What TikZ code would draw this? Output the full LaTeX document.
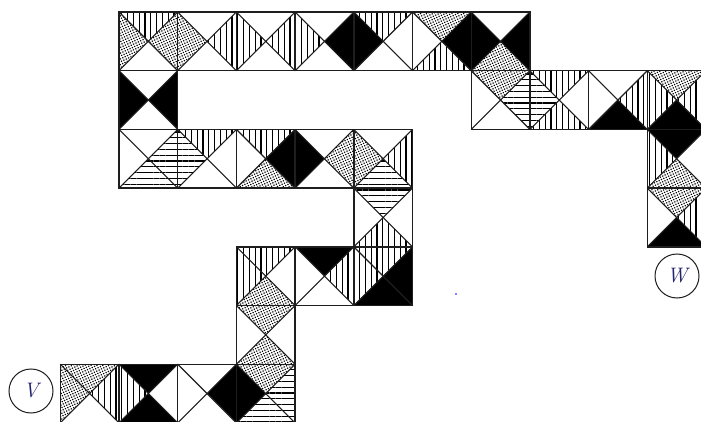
\documentclass[tikz,border=0pt]{standalone}
\usetikzlibrary{patterns.meta}
\definecolor{edgec}{RGB}{30,30,30}
\definecolor{letc}{RGB}{35,35,110}
\tikzset{
 fW/.style={fill=white},
 fK/.style={fill=black},
 fV/.style={pattern={Lines[angle=90,distance=5.8pt,line width=1.1pt]},pattern color=black},
 fH/.style={pattern={Lines[angle=0,distance=5.8pt,line width=1.1pt]},pattern color=black},
 fD/.style={pattern={Dots[distance=2.6pt,radius=0.85pt,angle=25]},pattern color=black},
 diag/.style={draw=edgec,line width=1.1pt},
 edge/.style={draw=edgec,line width=1.4pt},
 endpt/.style={circle,draw=edgec,line width=1pt,minimum size=44pt,inner sep=0pt,font=\fontsize{21}{21}\selectfont\itshape,text=letc},
}
% #1 column, #2 row, then fills of top, right, bottom, left triangles
\newcommand\mytile[6]{%
 \begin{scope}[shift={({60.3+#1*58.7},{12+#2*58.7})}]
  \path[f#3] (0,0) -- (58.7,0) -- (29.35,29.35) -- cycle;
  \path[f#4] (58.7,0) -- (58.7,58.7) -- (29.35,29.35) -- cycle;
  \path[f#5] (0,58.7) -- (58.7,58.7) -- (29.35,29.35) -- cycle;
  \path[f#6] (0,0) -- (0,58.7) -- (29.35,29.35) -- cycle;
  \draw[diag] (0,0) -- (58.7,58.7) (58.7,0) -- (0,58.7);
  \draw[edge] (0,0) rectangle (58.7,58.7);
 \end{scope}}
\begin{document}
\begin{tikzpicture}[x=1pt,y=-1pt]
\useasboundingbox (0,0) rectangle (701,422);
\clip (0,0) rectangle (701,422);
\fill[white] (0,0) rectangle (701,422);
% row 0
\mytile{1}{0}{V}{D}{W}{D}
\mytile{2}{0}{W}{V}{W}{D}
\mytile{3}{0}{W}{V}{W}{V}
\mytile{4}{0}{W}{K}{W}{V}
\mytile{5}{0}{V}{W}{W}{K}
\mytile{6}{0}{D}{K}{V}{W}
\mytile{7}{0}{W}{K}{D}{K}
% row 1
\mytile{1}{1}{W}{K}{W}{K}
\mytile{7}{1}{D}{H}{W}{W}
\mytile{8}{1}{V}{W}{V}{H}
\mytile{9}{1}{W}{V}{K}{W}
\mytile{10}{1}{D}{V}{K}{V}
% row 2
\mytile{1}{2}{W}{H}{H}{W}
\mytile{2}{2}{V}{W}{W}{H}
\mytile{3}{2}{V}{K}{D}{W}
\mytile{4}{2}{W}{D}{W}{K}
\mytile{5}{2}{W}{V}{H}{D}
\mytile{10}{2}{K}{W}{D}{V}
% row 3
\mytile{5}{3}{H}{W}{V}{W}
\mytile{10}{3}{D}{V}{K}{W}
% row 4
\mytile{3}{4}{V}{W}{D}{V}
\mytile{4}{4}{K}{V}{W}{W}
\mytile{5}{4}{V}{K}{K}{V}
% row 5
\mytile{3}{5}{D}{W}{D}{W}
% row 6
\mytile{0}{6}{D}{V}{W}{D}
\mytile{1}{6}{K}{W}{K}{V}
\mytile{2}{6}{W}{K}{W}{W}
\mytile{3}{6}{D}{H}{H}{K}
% end points
\node[endpt] (v) at (31,391) {V};
\node[endpt] (w) at (677,276) {W};
\fill[blue] (456,294) circle (0.9pt);
\end{tikzpicture}
\end{document}
